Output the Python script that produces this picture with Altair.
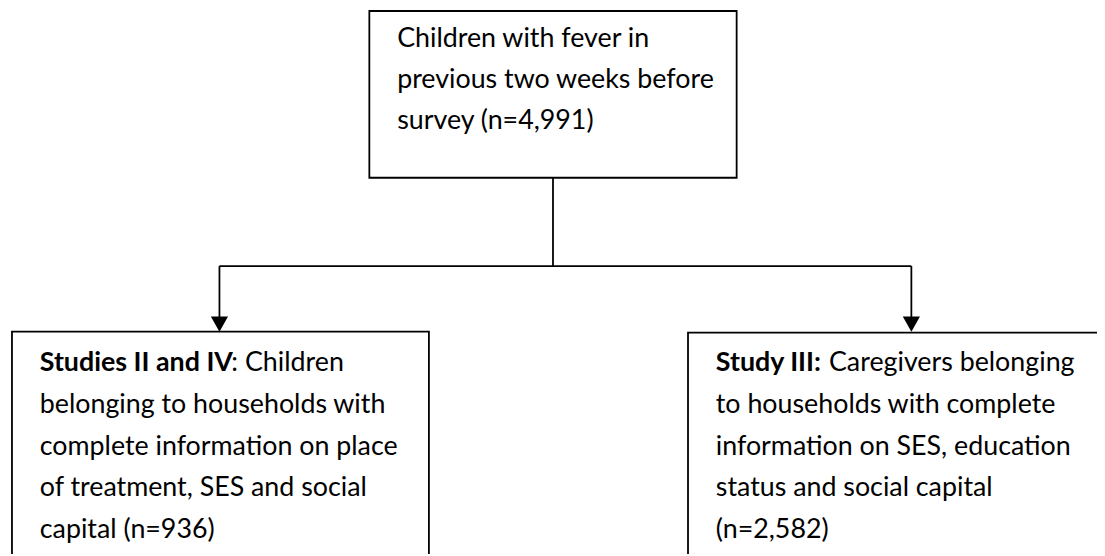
import altair as alt
import pandas as pd

# ---- text content ----
top_lines = ["Children with fever in", "previous two weeks before", "survey (n=4,991)"]
left_bold = "Studies II and IV"
left_rest = ": Children"
left_lines = ["belonging to households with", "complete information on place",
              "of treatment, SES and social", "capital (n=936)"]
right_bold = "Study III:"
right_rest = "Caregivers belonging"
right_lines = ["to households with complete", "information on SES, education",
               "status and social capital", "(n=2,582)"]

# ---- diagram layout (page pixel coordinates) ----
boxes = pd.DataFrame({
    "name": ["top", "left", "right"],
    "x0": [372, 12, 693], "x1": [742, 432, 1143],
    "y0": [9, 332, 333], "y1": [177, 620, 620],
})
connectors = pd.DataFrame({
    "x0": [557, 221, 221, 918], "x1": [557, 918, 221, 918],
    "y0": [177, 266, 266, 266], "y1": [266, 266, 318, 318],
})
arrow_x = [221, 918]
arrow_y = [324.5, 324.5]

FONT = "Lato"
FS = 27
REST_X = {"left": 233, "right": 835}

text_rows = []
for i, t in enumerate(top_lines):
    text_rows.append({"x": 400, "y": 45 + 41.5 * i, "t": t, "w": "normal"})
text_rows.append({"x": 40, "y": 372, "t": left_bold, "w": "bold"})
text_rows.append({"x": REST_X["left"], "y": 372, "t": left_rest, "w": "normal"})
for i, t in enumerate(left_lines):
    text_rows.append({"x": 40, "y": 414 + 42 * i, "t": t, "w": "normal"})
text_rows.append({"x": 721, "y": 372, "t": right_bold, "w": "bold"})
text_rows.append({"x": REST_X["right"], "y": 372, "t": right_rest, "w": "normal"})
for i, t in enumerate(right_lines):
    text_rows.append({"x": 721, "y": 414 + 42 * i, "t": t, "w": "normal"})
texts = pd.DataFrame(text_rows)

W, H = 1097, 548
xs = alt.Scale(domain=[8, 1105], range=[0, W])
ys = alt.Scale(domain=[8, 556], range=[0, H])

box_layer = alt.Chart(boxes).mark_rect(
    fill=None, stroke="black", strokeWidth=1.8, clip=True
).encode(
    x=alt.X("x0:Q", scale=xs, axis=None), x2="x1:Q",
    y=alt.Y("y0:Q", scale=ys, axis=None), y2="y1:Q",
)

line_layer = alt.Chart(connectors).mark_rule(
    color="black", strokeWidth=1.8
).encode(
    x=alt.X("x0:Q", scale=xs, axis=None), x2="x1:Q",
    y=alt.Y("y0:Q", scale=ys, axis=None), y2="y1:Q",
)

arrow_layer = alt.Chart(pd.DataFrame({"x": arrow_x, "y": arrow_y})).mark_point(
    shape="M -1 -0.88 L 1 -0.88 L 0 0.88 Z", size=300, filled=True,
    color="black", opacity=1, strokeWidth=0
).encode(
    x=alt.X("x:Q", scale=xs, axis=None),
    y=alt.Y("y:Q", scale=ys, axis=None),
)

normal_text = alt.Chart(texts[texts.w == "normal"]).mark_text(
    align="left", baseline="alphabetic", font=FONT, fontSize=FS, color="black"
).encode(
    x=alt.X("x:Q", scale=xs, axis=None),
    y=alt.Y("y:Q", scale=ys, axis=None),
    text="t:N",
)
bold_text = alt.Chart(texts[texts.w == "bold"]).mark_text(
    align="left", baseline="alphabetic", font=FONT, fontSize=FS,
    fontWeight="bold", color="black"
).encode(
    x=alt.X("x:Q", scale=xs, axis=None),
    y=alt.Y("y:Q", scale=ys, axis=None),
    text="t:N",
)

chart = alt.layer(box_layer, line_layer, arrow_layer, normal_text, bold_text).properties(
    width=W, height=H, padding=0, autosize=alt.AutoSizeParams(type="none")
).configure(background="white").configure_view(stroke=None)

chart.save("out.html", embed_options={"renderer": "svg", "actions": False})
